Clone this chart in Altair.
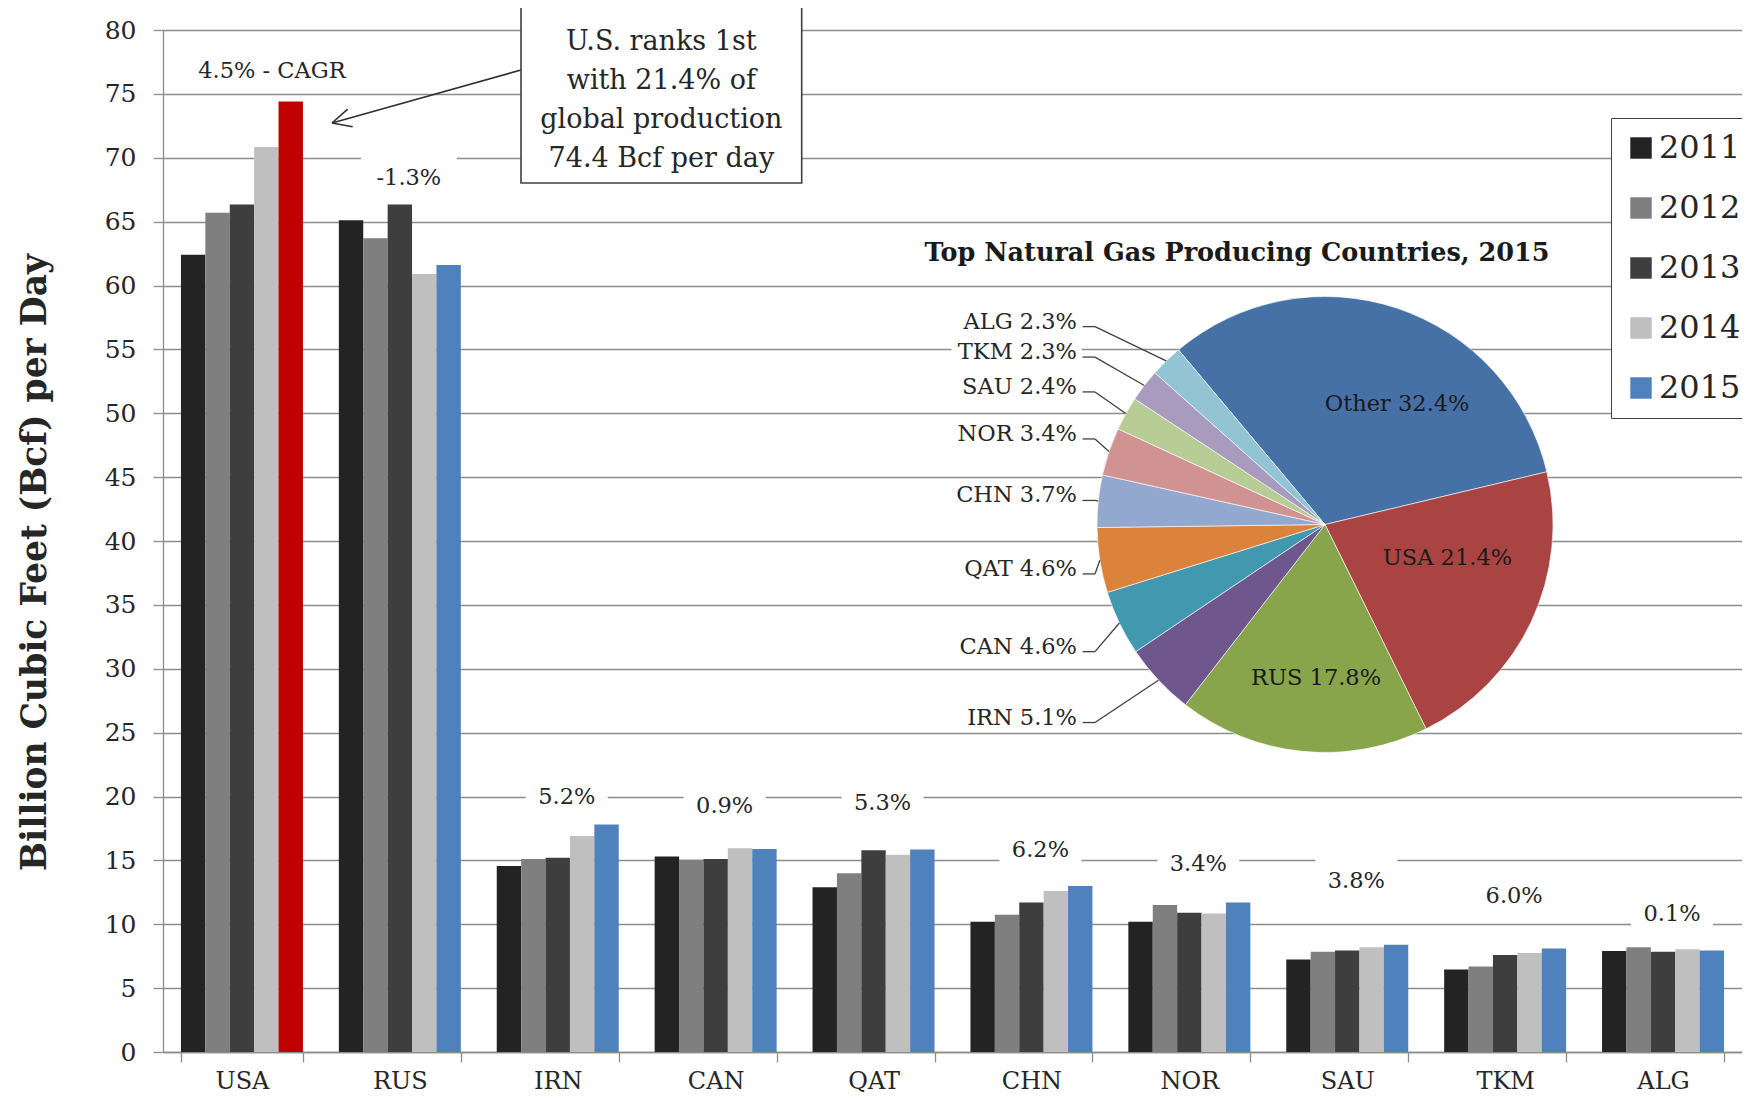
import math
import altair as alt
import pandas as pd

# ---------------- data ----------------
countries = ["USA", "RUS", "IRN", "CAN", "QAT", "CHN", "NOR", "SAU", "TKM", "ALG"]
years = ["2011", "2012", "2013", "2014", "2015"]
v2011 = [62.4, 65.1, 14.55, 15.3, 12.9, 10.2, 10.2, 7.25, 6.45, 7.9]
v2012 = [65.7, 63.7, 15.1, 15.05, 14.0, 10.75, 11.5, 7.85, 6.7, 8.2]
v2013 = [66.35, 66.35, 15.2, 15.1, 15.8, 11.7, 10.9, 7.95, 7.6, 7.85]
v2014 = [70.85, 60.9, 16.9, 15.95, 15.45, 12.6, 10.85, 8.2, 7.75, 8.05]
v2015 = [74.4, 61.6, 17.8, 15.9, 15.85, 13.0, 11.7, 8.4, 8.1, 7.95]
cagr_labels = ["4.5% - CAGR", "-1.3%", "5.2%", "0.9%", "5.3%", "6.2%", "3.4%", "3.8%", "6.0%", "0.1%"]

pie_names = ["Other", "USA", "RUS", "IRN", "CAN", "QAT", "CHN", "NOR", "SAU", "TKM", "ALG"]
pie_shares = [32.4, 21.4, 17.8, 5.1, 4.6, 4.6, 3.7, 3.4, 2.4, 2.3, 2.3]
pie_title = "Top Natural Gas Producing Countries, 2015"
callout_text = "U.S. ranks 1st\nwith 21.4% of\nglobal production\n74.4 Bcf per day"
y_title = "Billion Cubic Feet (Bcf) per Day"

# ---------------- layout / style ----------------
W, H = 1579, 1022
PAD_L, PAD_T = 155, 22
PAD_B = 1104 - 16 - PAD_T - H
FONT = "DejaVu Serif"
TXT = "#262626"
GRID = "#8c8c8c"
year_colors = ["#232323", "#7f7f7f", "#3e3e3e", "#bfbfbf", "#4f81bd"]
usa_2015_color = "#c00000"
pie_colors = ["#4671a6", "#a94442", "#88a54c", "#6f578e", "#4198af", "#db823d",
              "#93a8cf", "#d19392", "#b8cd96", "#a99bbd", "#92c4d4"]
cagr_label_y = [76.8, 68.4, 19.95, 19.25, 19.5, 15.8, 14.7, 13.4, 12.2, 10.8]  # label anchor heights (axis units)
LABEL_BOX_HALF = 1.85   # half height of white label boxes (axis units)

CX, CY, R = 1162, 494.5, 228       # pie centre / radius in plot pixels
START_DEG = 320.0                  # pie starts at -40 deg
LABEL_RIGHT = 914                  # right edge of outside pie labels
# placement tweaks of the three inside labels (angle shift in degrees, radius fraction)
inner_shift = {"Other": (12.6, 0.616), "USA": (-9.8, 0.557), "RUS": (-2.4, 0.675)}

one = pd.DataFrame({"k": [0]})

# ---------------- bar chart ----------------
rows = []
for yr, vals in zip(years, [v2011, v2012, v2013, v2014, v2015]):
    for c, v in zip(countries, vals):
        rows.append({"country": c, "year": yr, "value": v})
bars_df = pd.DataFrame(rows)

x_scale = alt.Scale(domain=countries, paddingInner=0.2274, paddingOuter=0.1137)
y_scale = alt.Scale(domain=[0, 80], nice=False)

x_axis = alt.Axis(title=None, labelAngle=0, labelFont=FONT, labelFontSize=24, labelColor=TXT,
                  labelPadding=7, tickBand="extent", tickSize=10, tickColor=GRID, tickWidth=1.3,
                  domainColor=GRID, domainWidth=1.3, grid=False)
y_axis = alt.Axis(title=y_title, values=list(range(0, 85, 5)), labelFont=FONT, labelFontSize=25,
                  labelColor=TXT, labelPadding=17, tickSize=10, tickColor=GRID, tickWidth=1.3,
                  domainColor=GRID, domainWidth=1.3, grid=True, gridColor=GRID, gridWidth=1.3,
                  titleFont=FONT, titleFontSize=34.5, titleFontWeight="bold", titleColor=TXT,
                  titleAngle=270, titleX=-128, titleY=532, titleAlign="center", titleBaseline="middle")

legend = alt.Legend(orient="none", legendX=1448, legendY=88, title=None, padding=14,
                    fillColor="white", strokeColor="#404040", symbolType="square", symbolSize=460,
                    symbolStrokeWidth=0, labelFont=FONT, labelFontSize=32, labelColor=TXT,
                    labelOffset=2, rowPadding=28)

bars = alt.Chart(bars_df).mark_bar().encode(
    x=alt.X("country:N", sort=countries, scale=x_scale, axis=x_axis),
    xOffset=alt.XOffset("year:N", sort=years, scale=alt.Scale(paddingInner=0, paddingOuter=0)),
    y=alt.Y("value:Q", scale=y_scale, axis=y_axis),
    color=alt.condition("datum.country === 'USA' && datum.year === '2015'",
                        alt.value(usa_2015_color),
                        alt.Color("year:N", sort=years,
                                  scale=alt.Scale(domain=years, range=year_colors), legend=legend)),
)

cagr_df = pd.DataFrame({"country": countries, "label": cagr_labels, "ly": cagr_label_y})
cagr_df["y0"] = cagr_df["ly"] - LABEL_BOX_HALF
cagr_df["y1"] = cagr_df["ly"] + LABEL_BOX_HALF
cagr_df["w"] = cagr_df["label"].str.len() * 14 + 26
is_usa = cagr_df["country"] == "USA"

# white label boxes (knock out the gridlines behind the CAGR labels)
cagr_boxes = alt.Chart(cagr_df[~is_usa]).mark_bar(color="white", xOffset=9).encode(
    x=alt.X("country:N", sort=countries, scale=x_scale, axis=x_axis),
    y=alt.Y("y0:Q", scale=y_scale, axis=y_axis),
    y2="y1:Q",
    size=alt.Size("w:Q", scale=None, legend=None),
)


def cagr_layer(sel, dx):
    return alt.Chart(cagr_df[sel]).mark_text(font=FONT, fontSize=22.5, dx=dx, color=TXT,
                                             baseline="middle").encode(
        x=alt.X("country:N", sort=countries, scale=x_scale, axis=x_axis),
        y=alt.Y("ly:Q", scale=y_scale, axis=y_axis),
        text="label:N",
    )


cagr_text = [cagr_layer(is_usa, 30), cagr_layer(~is_usa, 9)]

# ---------------- pie ----------------
pie_df = pd.DataFrame({"name": pie_names, "share": pie_shares, "idx": list(range(len(pie_names)))})
a0 = math.radians(START_DEG)
pie = alt.Chart(pie_df).mark_arc(outerRadius=R, stroke="white", strokeWidth=0.6).encode(
    theta=alt.Theta("share:Q", stack=True, scale=alt.Scale(range=[a0, a0 + 2 * math.pi])),
    order=alt.Order("idx:Q"),
    color=alt.Color("name:N", sort=pie_names, scale=alt.Scale(domain=pie_names, range=pie_colors),
                    legend=None),
    x=alt.value(CX), y=alt.value(CY),
)

outer, inner, leaders = [], [], []
cum = 0.0
for name, share in zip(pie_names, pie_shares):
    start = START_DEG + cum * 3.6
    cum += share
    end = START_DEG + cum * 3.6
    mid_deg = (start + end) / 2
    mid = math.radians(mid_deg)
    label = f"{name} {share:.1f}%"
    if name in inner_shift:
        shift, frac = inner_shift[name]
        a = math.radians(mid_deg + shift)
        inner.append({"px": CX + frac * R * math.sin(a), "py": CY - frac * R * math.cos(a), "label": label})
    else:
        ly = CY - 1.24 * R * math.cos(mid)
        outer.append({"px": LABEL_RIGHT, "py": ly, "label": label})
        ex, ey = CX + R * math.sin(mid), CY - R * math.cos(mid)
        hy = ly + 5
        leaders.append({"x": LABEL_RIGHT + 5, "y": hy, "x2": LABEL_RIGHT + 18, "y2": hy})
        leaders.append({"x": LABEL_RIGHT + 18, "y": hy, "x2": ex, "y2": ey})

outer_df = pd.DataFrame(outer)
inner_df = pd.DataFrame(inner)
lead_df = pd.DataFrame(leaders)

pix_x = lambda f: alt.X(f, type="quantitative", scale=None, axis=None)
pix_y = lambda f: alt.Y(f, type="quantitative", scale=None, axis=None)

outer_halo = alt.Chart(outer_df).mark_text(font=FONT, fontSize=22.5, align="right", baseline="middle",
                                           color="white", stroke="white", strokeWidth=14,
                                           strokeJoin="round").encode(
    x=pix_x("px"), y=pix_y("py"), text="label:N")
outer_text = alt.Chart(outer_df).mark_text(font=FONT, fontSize=22.5, align="right", baseline="middle",
                                           color=TXT).encode(
    x=pix_x("px"), y=pix_y("py"), text="label:N")
inner_text = alt.Chart(inner_df).mark_text(font=FONT, fontSize=22.5, align="center", baseline="middle",
                                           color="#1a1a1a").encode(
    x=pix_x("px"), y=pix_y("py"), text="label:N")
lead_lines = alt.Chart(lead_df).mark_rule(color="#404040", strokeWidth=1.3).encode(
    x=pix_x("x"), y=pix_y("y"), x2="x2:Q", y2="y2:Q")

pie_title_mark = alt.Chart(one).mark_text(font=FONT, fontSize=25.5, fontWeight="bold", color="#1a1a1a",
                                          align="center", baseline="middle").encode(
    x=alt.value(1074), y=alt.value(223), text=alt.value(pie_title))

# ---------------- callout ----------------
BOX_X0, BOX_X1, BOX_Y0, BOX_Y1 = 358, 638.7, -23.3, 153
box = alt.Chart(one).mark_rect(fill="white", stroke="#404040", strokeWidth=1.6).encode(
    x=alt.value(BOX_X0), x2=alt.value(BOX_X1), y=alt.value(BOX_Y0), y2=alt.value(BOX_Y1))
box_text = alt.Chart(one).mark_text(font=FONT, fontSize=27, color=TXT, align="center",
                                    baseline="alphabetic", lineBreak="\n", lineHeight=38.9).encode(
    x=alt.value((BOX_X0 + BOX_X1) / 2), y=alt.value(20), text=alt.value(callout_text))

AX0, AY0, AX1, AY1 = BOX_X0, 40, 169, 93
dxa, dya = AX0 - AX1, AY0 - AY1
la = math.hypot(dxa, dya)
ux, uy = dxa / la, dya / la
heads = []
for s in (1, -1):
    ang = math.radians(26) * s
    hx = ux * math.cos(ang) - uy * math.sin(ang)
    hy = ux * math.sin(ang) + uy * math.cos(ang)
    heads.append({"x": AX1, "y": AY1, "x2": AX1 + 21 * hx, "y2": AY1 + 21 * hy})
arrow_df = pd.DataFrame([{"x": AX0, "y": AY0, "x2": AX1, "y2": AY1}] + heads)
arrow = alt.Chart(arrow_df).mark_rule(color="#303030", strokeWidth=1.6).encode(
    x=pix_x("x"), y=pix_y("y"), x2="x2:Q", y2="y2:Q")

chart = alt.layer(
    bars,
    cagr_boxes,
    *cagr_text,
    pie,
    lead_lines,
    outer_halo,
    outer_text,
    inner_text,
    pie_title_mark,
    arrow,
    box,
    box_text,
).resolve_scale(color="independent").properties(
    width=W, height=H,
    padding={"left": PAD_L, "top": PAD_T, "right": 0, "bottom": PAD_B},
    autosize=alt.AutoSizeParams(type="none"),
    background="white",
).configure_view(strokeWidth=0)

chart.save("out.html", embed_options={"renderer": "svg", "actions": False})
